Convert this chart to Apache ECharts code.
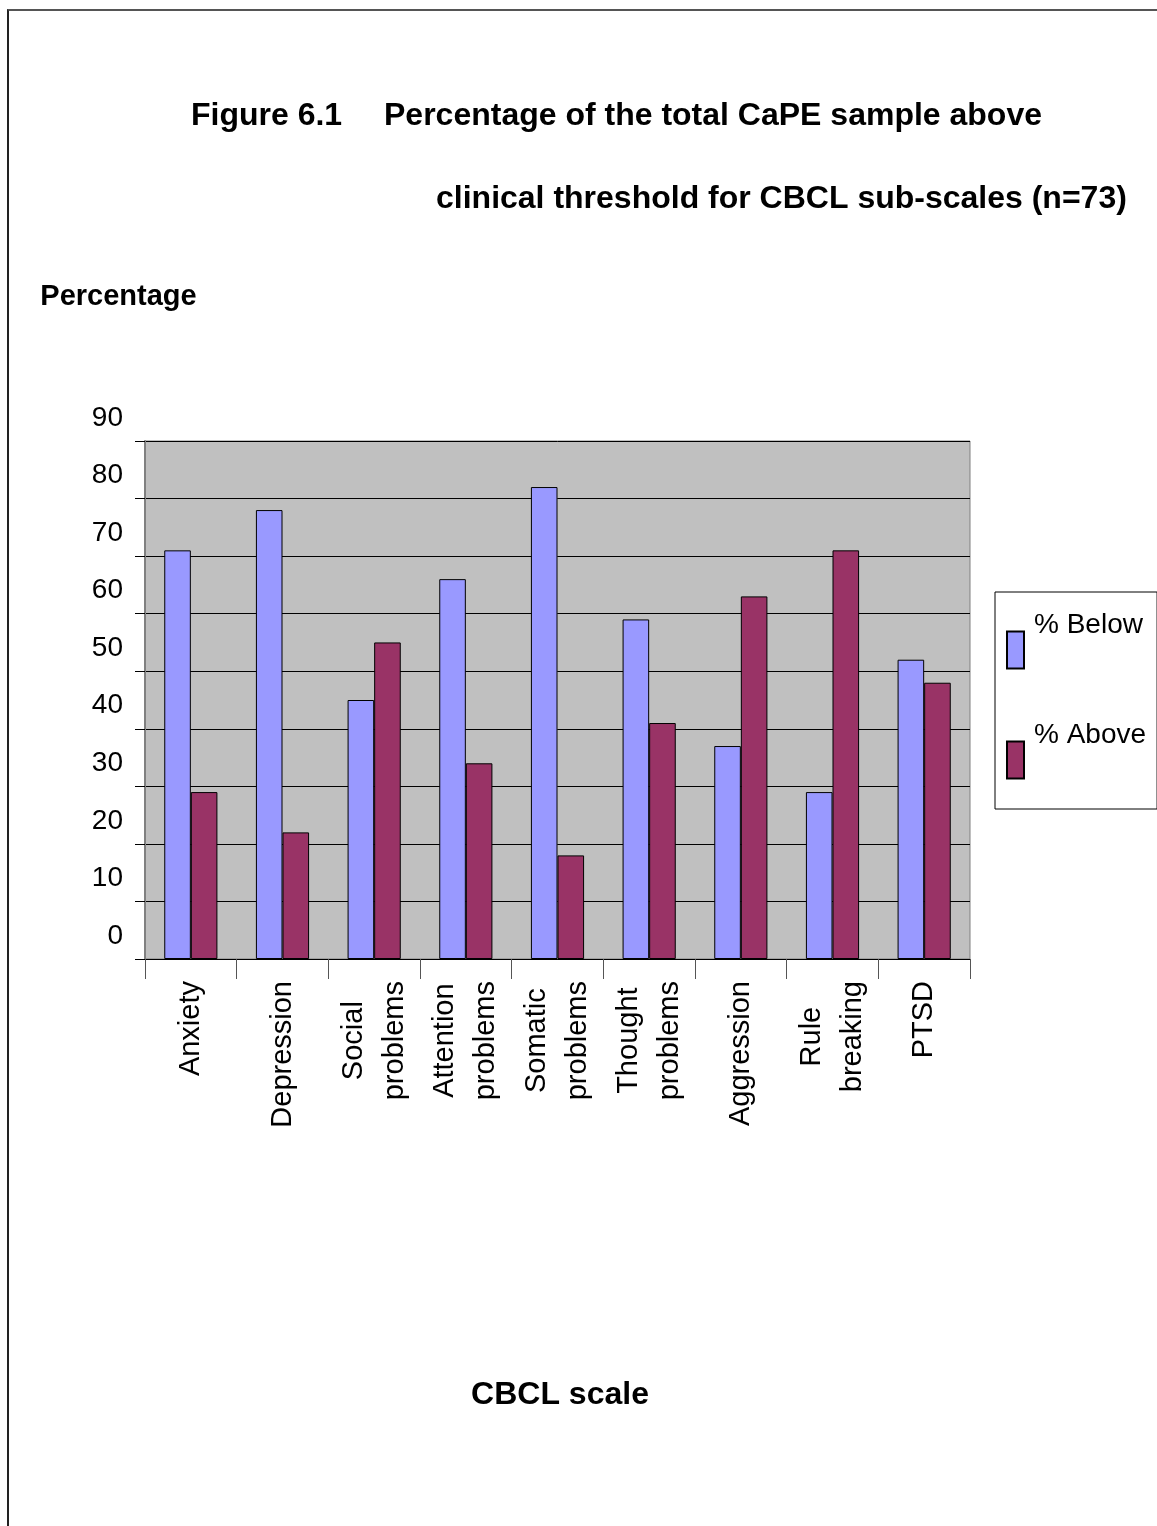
<!DOCTYPE html>
<html>
<head>
<meta charset="utf-8">
<title>Figure 6.1 CBCL sub-scales</title>
<script src="https://cdn.jsdelivr.net/npm/echarts@6/dist/echarts.min.js"></script>
<style>
  html, body { margin: 0; padding: 0; background: #fff; }
  #frame {
    position: absolute; left: 7px; top: 9px; right: -10px; bottom: -10px;
    border-top: 2px solid #555; border-left: 2px solid #222;
  }
  #chart { position: absolute; left: 0; top: 0; width: 1157px; height: 1526px; }
</style>
</head>
<body>
<div id="frame"></div>
<div id="chart"></div>
<script>
// CBCL sub-scales, percentage of the sample below / above the clinical threshold
const categories = ['Anxiety', 'Depression', 'Social\nproblems', 'Attention\nproblems',
  'Somatic\nproblems', 'Thought\nproblems', 'Aggression', 'Rule\nbreaking', 'PTSD'];
const belowValues = [71, 78, 45, 66, 82, 59, 37, 29, 52];
const aboveValues = [29, 22, 55, 34, 18, 41, 63, 71, 48];
const yTicks = { min: 0, max: 90, interval: 10 };

const FONT = '"Liberation Sans", Arial, Helvetica, sans-serif';

const chart = echarts.init(document.getElementById('chart'), null, { renderer: 'canvas' });

const titleStyle = { fontFamily: FONT, fontWeight: 'bold', fontSize: 32, color: '#000', lineHeight: 34 };

chart.setOption({
  backgroundColor: 'transparent',
  animation: false,
  title: [
    { text: 'Figure 6.1', left: 191, top: 99, padding: 0, textStyle: titleStyle },
    { text: 'Percentage of the total CaPE sample above', left: 384, top: 99, padding: 0, textStyle: titleStyle },
    { text: 'clinical threshold for CBCL sub-scales (n=73)', left: 436, top: 182, padding: 0, textStyle: titleStyle }
  ],
  legend: {
    orient: 'vertical',
    left: 995,
    top: 592,
    padding: [19, 11, 10, 11],
    itemWidth: 17,
    itemHeight: 37,
    itemGap: 32,
    borderColor: '#000',
    borderWidth: 1,
    borderRadius: 0,
    backgroundColor: '#fff',
    icon: 'rect',
    formatter: function (name) { return '{t|' + name + '}'; },
    textStyle: {
      fontFamily: FONT, fontSize: 28, color: '#000',
      rich: {
        t: { fontFamily: FONT, fontSize: 28, color: '#000', lineHeight: 28, padding: [0, 0, 50, 5] }
      }
    },
    data: ['% Below', '% Above']
  },
  grid: {
    left: 145, right: 187, top: 441, bottom: 567,
    show: true,
    backgroundColor: '#C0C0C0',
    borderColor: '#808080',
    borderWidth: 1,
    containLabel: false
  },
  xAxis: {
    type: 'category',
    data: categories,
    name: 'CBCL scale',
    nameLocation: 'middle',
    nameGap: 419,
    nameTextStyle: {
      fontFamily: FONT, fontWeight: 'bold', fontSize: 32, color: '#000',
      lineHeight: 34, padding: [0, 0, 0, 5]
    },
    axisLine: { show: true, lineStyle: { color: '#000', width: 1 } },
    axisTick: { show: true, length: 20, interval: 0, lineStyle: { color: '#555', width: 1 } },
    axisLabel: {
      interval: 0,
      rotate: 90,
      margin: 22,
      color: '#000',
      fontFamily: FONT,
      fontSize: 29,
      lineHeight: 41,
      formatter: function (v) {
        return v.split('\n').map(function (s) { return '{c|' + s + '}'; }).join('\n');
      },
      rich: {
        c: { align: 'center', fontFamily: FONT, fontSize: 29, lineHeight: 41, color: '#000' }
      }
    },
    splitLine: { show: false }
  },
  yAxis: {
    type: 'value',
    min: yTicks.min,
    max: yTicks.max,
    interval: yTicks.interval,
    name: 'Percentage',
    nameLocation: 'end',
    nameGap: 129,
    nameTextStyle: {
      fontFamily: FONT, fontWeight: 'bold', fontSize: 29, color: '#000',
      lineHeight: 30, padding: [0, 53, 0, 0]
    },
    axisLine: { show: true, lineStyle: { color: '#808080', width: 2 } },
    axisTick: { show: true, length: 10, lineStyle: { color: '#000', width: 1 } },
    axisLabel: {
      margin: 22,
      color: '#000',
      fontFamily: FONT,
      fontSize: 28,
      verticalAlign: 'bottom',
      lineHeight: 46
    },
    splitLine: { show: true, lineStyle: { color: '#000', width: 1 } }
  },
  series: [
    {
      name: '% Below',
      type: 'bar',
      data: belowValues,
      barGap: '0%',
      barCategoryGap: '42%',
      itemStyle: { color: '#9999FF', borderColor: '#000', borderWidth: 1 }
    },
    {
      name: '% Above',
      type: 'bar',
      data: aboveValues,
      barGap: '0%',
      barCategoryGap: '42%',
      itemStyle: { color: '#993366', borderColor: '#000', borderWidth: 1 }
    }
  ]
});
</script>
</body>
</html>
